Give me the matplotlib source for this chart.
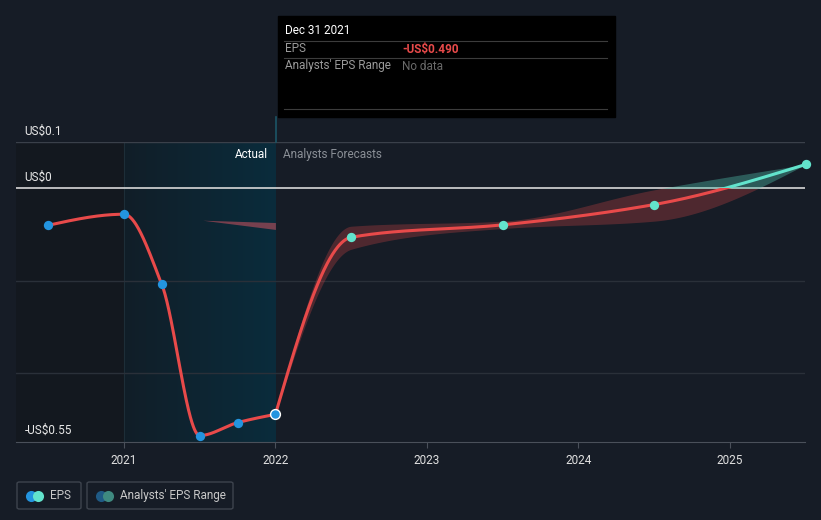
import numpy as np
import matplotlib
matplotlib.use("Agg")
from matplotlib import pyplot as plt
from matplotlib.patches import Rectangle, FancyBboxPatch
from matplotlib.transforms import blended_transform_factory
from matplotlib.colors import LinearSegmentedColormap

plt.rcParams['font.family'] = ['Roboto', 'DejaVu Sans']

# --- data (fractional years, EPS in US$) ---
actual_t = [2020.5, 2021.0, 2021.25, 2021.5, 2021.75, 2022.0]
actual_eps = [-0.080, -0.056, -0.208, -0.536, -0.508, -0.490]

fc_t = [2022.0, 2022.5, 2023.5, 2024.5, 2025.5]
fc_eps = [-0.490, -0.106, -0.079, -0.035, 0.052]
fc_low = [-0.490, -0.132, -0.087, -0.071, 0.052]
fc_high = [-0.490, -0.082, -0.071, -0.003, 0.052]

# older analyst range shown inside the actual period
past_t = [2021.52, 2022.0]
past_low = [-0.069, -0.089]
past_high = [-0.069, -0.074]

year_ticks = [2021, 2022, 2023, 2024, 2025]
y_labels = {0.1: 'US$0.1', 0.0: 'US$0', -0.55: '-US$0.55'}

BG = '#161c26'
RED = '#e84a4a'
CYAN = '#62e3cc'
BLUE = '#2394df'


def monotone(x, y, xs):
    # monotone cubic hermite, used only to draw smooth curves through the points
    x = np.asarray(x, float); y = np.asarray(y, float)
    h = np.diff(x); d = np.diff(y) / h
    n = len(x)
    m = np.zeros(n)
    for k in range(1, n - 1):
        if d[k - 1] * d[k] > 0:
            w1 = 2 * h[k] + h[k - 1]
            w2 = h[k] + 2 * h[k - 1]
            m[k] = (w1 + w2) / (w1 / d[k - 1] + w2 / d[k])
    m[0] = (3 * d[0] - m[1]) / 2 if n > 2 else d[0]
    m[-1] = (3 * d[-1] - m[-2]) / 2 if n > 2 else d[-1]
    out = np.empty_like(xs)
    idx = np.clip(np.searchsorted(x, xs) - 1, 0, n - 2)
    for i, xv in enumerate(xs):
        k = idx[i]
        t = (xv - x[k]) / h[k]
        h00 = 2 * t**3 - 3 * t**2 + 1
        h10 = t**3 - 2 * t**2 + t
        h01 = -2 * t**3 + 3 * t**2
        h11 = t**3 - t**2
        out[i] = h00 * y[k] + h10 * h[k] * m[k] + h01 * y[k + 1] + h11 * h[k] * m[k + 1]
    return out


fig = plt.figure(figsize=(8.21, 5.2), dpi=100, facecolor=BG)
ax = fig.add_axes([16 / 821, 1 - 442 / 520, (805 - 16) / 821, (442 - 142.3) / 520])
ax.set_facecolor(BG)
x0, x1 = 2020.288, 2025.495
y0, y1 = -0.55, 0.1
ax.set_xlim(x0, x1)
ax.set_ylim(y0, y1)

# darker past zone and highlighted last-year zone
ax.axvspan(x0, 2021.0, color='#13181f', zorder=0, lw=0)
grad = np.linspace(0, 1, 256).reshape(1, -1)
cmap = LinearSegmentedColormap.from_list('hl', ['#111e28', '#0a2c3c'])
ax.imshow(grad, extent=[2021.0, 2022.0, y0, y1], aspect='auto', cmap=cmap, zorder=0.5)
ax.axvline(2021.0, color='#1d2e38', lw=0.8, zorder=0.6)

# grid
for g in [-0.2, -0.4]:
    ax.axhline(g, color='#2a3039', lw=1, zorder=1)
ax.axhline(0.1, color='#3a404a', lw=1, zorder=1)
ax.axhline(0.0, color='#d8d8d8', lw=1.2, zorder=2)

# past analyst range wedge
ax.fill_between(past_t, past_low, past_high, color='#c0505e', alpha=0.6, lw=0, zorder=2)

# forecast range band, red below zero / teal above
xs = np.linspace(fc_t[0], fc_t[-1], 800)
lo = monotone(fc_t, fc_low, xs)
hi = monotone(fc_t, fc_high, xs)
ax.fill_between(xs, np.minimum(lo, 0), np.minimum(hi, 0), color=RED, alpha=0.27, lw=0, zorder=2)
ax.fill_between(xs, np.maximum(lo, 0), np.maximum(hi, 0), color='#4fb8a6', alpha=0.4, lw=0, zorder=2)

# actual line
xa = np.linspace(actual_t[0], actual_t[-1], 600)
ax.plot(xa, monotone(actual_t, actual_eps, xa), color=RED, lw=2.2, zorder=3, solid_capstyle='round')

# forecast line
fy = monotone(fc_t, fc_eps, xs)
ln_r, = ax.plot(xs, fy, color=RED, lw=2.2, zorder=3, solid_capstyle='round')
ln_c, = ax.plot(xs, fy, color=CYAN, lw=2.2, zorder=3, solid_capstyle='round')
ln_r.set_clip_path(Rectangle((x0, y0), x1 - x0, 0 - y0, transform=ax.transData))
ln_c.set_clip_path(Rectangle((x0, 0), x1 - x0, y1, transform=ax.transData))

# points
ax.scatter(actual_t[:-1], actual_eps[:-1], s=45, color=BLUE, zorder=4, lw=0)
ax.scatter(actual_t[-1:], actual_eps[-1:], s=50, color=BLUE, edgecolor='white', lw=1, zorder=5)
ax.scatter(fc_t[1:], fc_eps[1:], s=45, color=CYAN, zorder=4, lw=0, clip_on=False)

# axes styling
for s in ['top', 'right', 'left']:
    ax.spines[s].set_visible(False)
ax.spines['bottom'].set_color('#4a505a')
ax.set_yticks([])
ax.set_xticks(year_ticks)
ax.set_xticklabels([str(y) for y in year_ticks])
ax.tick_params(axis='x', colors='#4a505a', labelcolor='#e0e0e0', length=4, pad=5, labelsize=8.5)

trans = blended_transform_factory(ax.transAxes, ax.transData)
for val, lab in y_labels.items():
    ax.annotate(lab, xy=(0.011, val), xycoords=trans, xytext=(0, 3.5), textcoords='offset points',
                va='bottom', ha='left', color='#e8e8e8', fontsize=8.5)

ax.text(2021.95, 0.073, 'Actual', color='#ffffff', fontsize=8.5, ha='right', va='center')
ax.text(2022.05, 0.073, 'Analysts Forecasts', color='#8a8f96', fontsize=8.5, ha='left', va='center')

# tooltip
def fx(p): return p / 821
def fy_(p): return 1 - p / 520

fig.add_artist(Rectangle((fx(278), fy_(117)), fx(615) - fx(278), fy_(16) - fy_(117),
                         transform=fig.transFigure, color='#000000', zorder=10))
fig.add_artist(plt.Line2D([fx(276), fx(276)], [fy_(142), fy_(117)], transform=fig.transFigure,
                          color='#1c5566', lw=1.2, zorder=10))
for yy in [41, 58, 109]:
    fig.add_artist(plt.Line2D([fx(284), fx(607)], [fy_(yy), fy_(yy)], transform=fig.transFigure,
                              color='#3c3c3c', lw=0.8, zorder=11))
fig.text(fx(285), fy_(31), 'Dec 31 2021', color='#ffffff', fontsize=8.5, va='center', zorder=12)
fig.text(fx(285), fy_(49), 'EPS', color='#9a9a9a', fontsize=8.5, va='center', zorder=12)
fig.text(fx(402), fy_(49), '-US$0.490', color='#e84a4a', fontsize=8.5, va='center', zorder=12,
         fontweight='bold')
fig.text(fx(285), fy_(66), "Analysts' EPS Range", color='#9a9a9a', fontsize=8.5, va='center', zorder=12)
fig.text(fx(402), fy_(66), 'No data', color='#6a6a6a', fontsize=8.5, va='center', zorder=12)

# legend
def legend_box(xl, xr, c1, c2, label):
    fig.add_artist(FancyBboxPatch((fx(xl), fy_(509)), fx(xr) - fx(xl), fy_(482) - fy_(509),
                                  boxstyle='round,pad=0,rounding_size=0.003',
                                  transform=fig.transFigure, facecolor='none',
                                  edgecolor='#3e444e', lw=1))
    fig.add_artist(plt.Line2D([fx(xl + 14)], [fy_(495.5)], marker='o', ms=8, color=c1,
                              mew=0, transform=fig.transFigure))
    fig.add_artist(plt.Line2D([fx(xl + 21)], [fy_(495.5)], marker='o', ms=8, color=c2,
                              mew=0, transform=fig.transFigure))
    fig.text(fx(xl + 33), fy_(495.5), label, color='#c8c8c8', fontsize=8.5, va='center')

legend_box(17, 81, BLUE, CYAN, 'EPS')
legend_box(87, 233, '#1f5a85', '#3f8a80', "Analysts' EPS Range")

fig.savefig('out.png', dpi=100, facecolor=BG)
